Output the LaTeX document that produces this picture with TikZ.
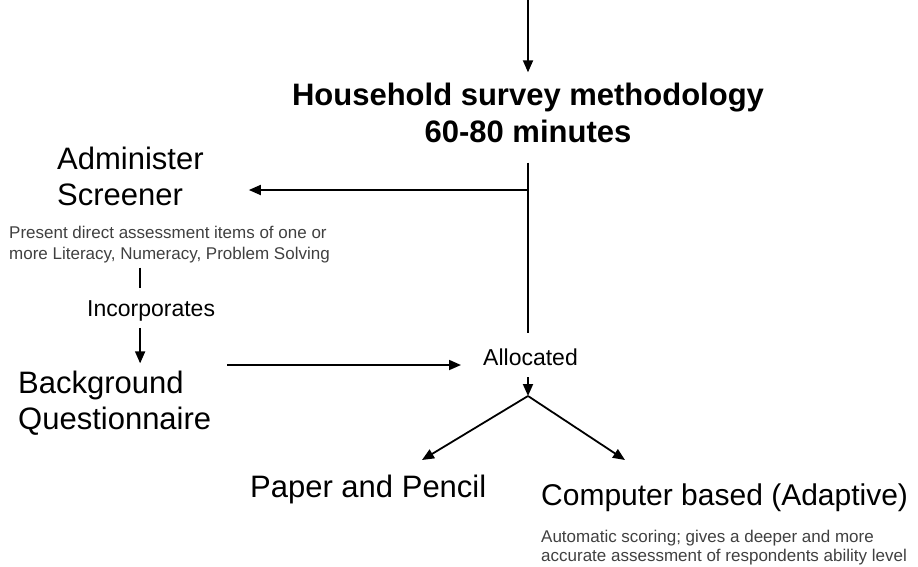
\documentclass[tikz,border=0pt]{standalone}
\usepackage{fontspec}
\setmainfont{Liberation Sans}
\usetikzlibrary{arrows.meta}
\definecolor{textgray}{HTML}{404040}
\tikzset{
  ln/.style={line width=1.8pt},
  arr/.style={ln, -{Triangle[length=12pt,width=10pt]}},
  bigtext/.style={inner sep=0pt, align=left, font=\fontsize{31}{36}\selectfont},
  midtext/.style={inner sep=0pt, font=\fontsize{23}{28}\selectfont},
  smalltext/.style={inner sep=0pt, align=left, text=textgray, font=\fontsize{17}{20}\selectfont}
}
\begin{document}
\begin{tikzpicture}[x=1pt,y=-1pt]
\useasboundingbox (0,0) rectangle (918,566);
\node[bigtext, align=center, anchor=base, font=\bfseries\fontsize{31}{37}\selectfont] (survey) at (528,142) {Household survey methodology\\60-80 minutes};
\node[bigtext, anchor=base west] (screener) at (57,205) {Administer\\Screener};
\node[smalltext, anchor=base west, font=\fontsize{17}{21}\selectfont] (present) at (9,259) {Present direct assessment items of one or\\more Literacy, Numeracy, Problem Solving};
\node[midtext, anchor=base west] (incorp) at (87,316) {Incorporates};
\node[bigtext, anchor=base west] (background) at (18,429) {Background\\Questionnaire};
\node[midtext, anchor=base west] (alloc) at (483,365) {Allocated};
\node[bigtext, anchor=base west] (paper) at (250,497) {Paper and Pencil};
\node[bigtext, anchor=base west, font=\fontsize{30}{36}\selectfont] (computer) at (541,505) {Computer based (Adaptive)};
\node[smalltext, anchor=base west, font=\fontsize{17}{19}\selectfont] (auto) at (541,561) {Automatic scoring; gives a deeper and more\\accurate assessment of respondents ability level};
\coordinate (start) at (528,0);
\coordinate (split) at (528,190);
\coordinate (fork) at (528,396);
\coordinate (paperin) at (422,460);
\coordinate (compin) at (625,460);
\coordinate (incn) at ([xshift=-11pt]incorp.north);
\coordinate (incs) at ([xshift=-11pt]incorp.south);

\draw[arr, shorten >=10pt] (start) -- (start |- survey.north);
\draw[ln, shorten <=20pt, shorten >=15pt] (survey.south) -- (survey.south |- alloc.north);
\draw[arr, shorten >=45pt] (split) -- (split -| screener.east);
\draw[ln, shorten <=5pt, shorten >=12pt] (incn |- present.south) -- (incn);
\draw[arr, shorten <=7pt, shorten >=7pt] (incs) -- (incs |- background.north);
\draw[arr, shorten <=16pt, shorten >=22pt] (background.east |- alloc.base west) -- (alloc.base west);
\draw[arr, shorten <=12pt] (alloc.south -| fork) -- (fork);
\draw[arr] (fork) -- (paperin);
\draw[arr] (fork) -- (compin);
\end{tikzpicture}
\end{document}
